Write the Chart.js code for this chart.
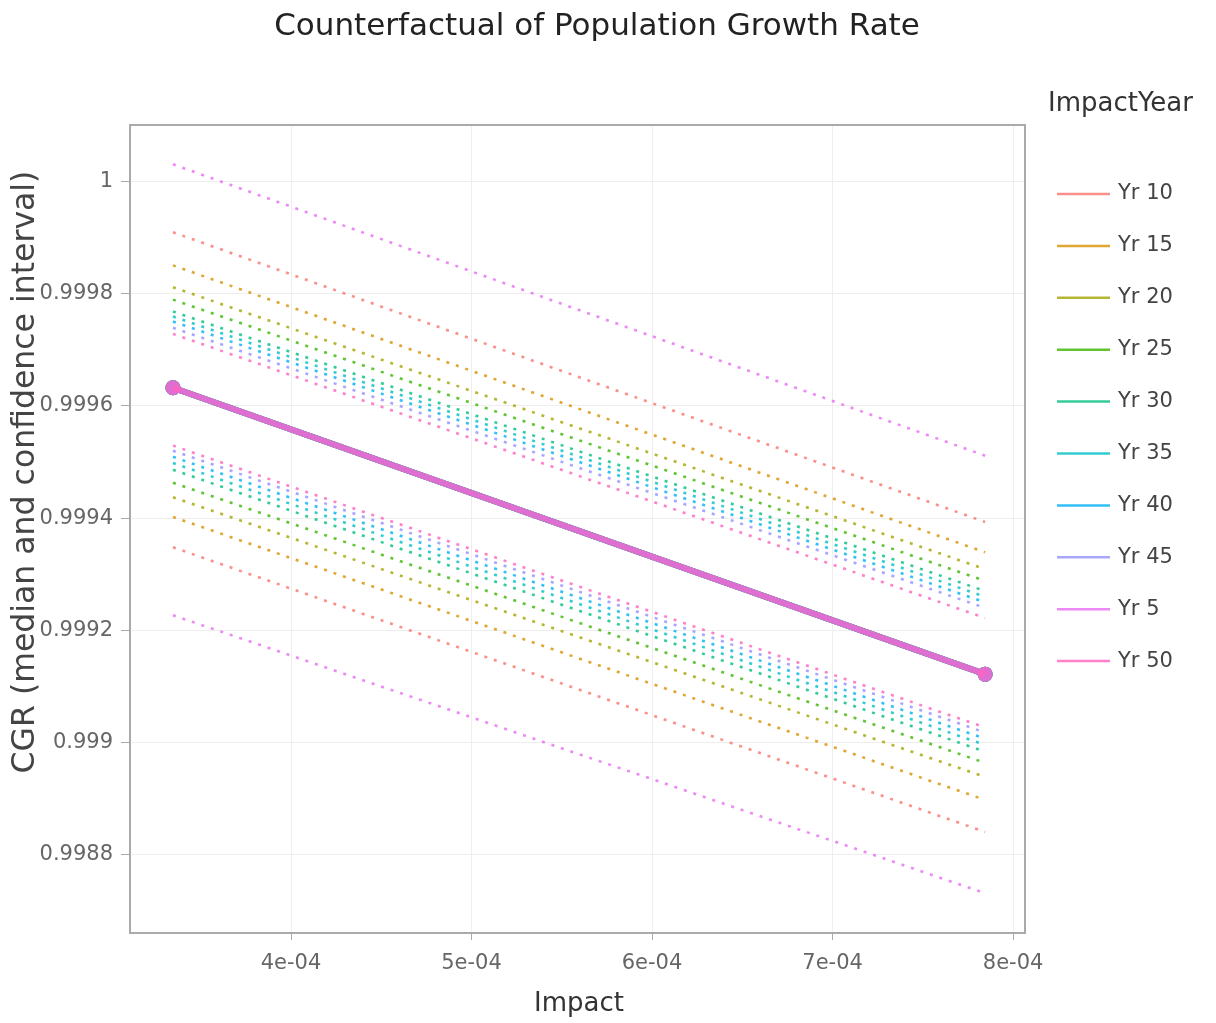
<!DOCTYPE html>
<html><head><meta charset="utf-8">
<script src="https://cdn.jsdelivr.net/npm/chart.js@4.4.1/dist/chart.umd.min.js"></script>
<style>html,body{margin:0;padding:0;background:#fff;overflow:hidden;} #wrap{position:relative;width:1216px;height:1023px;}</style>
</head><body><div id="wrap"><canvas id="c" width="1216" height="1023"></canvas></div>
<script>
// ---- data ----
const impactX = [3.346e-4, 7.845e-4];
const years = ['Yr 10','Yr 15','Yr 20','Yr 25','Yr 30','Yr 35','Yr 40','Yr 45','Yr 5','Yr 50'];
const colors = ['#F8766D','#D89000','#A3A500','#39B600','#00BF7D','#00BFC4','#00B0F6','#9590FF','#E76BF3','#FF62BC'];
const upperStart = [0.999909,0.999850,0.999811,0.999789,0.999768,0.999759,0.999750,0.999739,1.000030,0.999728];
const upperEnd   = [0.999393,0.999339,0.999309,0.999288,0.999270,0.999260,0.999250,0.999240,0.999511,0.999222];
const lowerStart = [0.999348,0.999402,0.999437,0.999463,0.999486,0.999498,0.999509,0.999520,0.999227,0.999529];
const lowerEnd   = [0.998841,0.998898,0.998939,0.998964,0.998984,0.998996,0.999007,0.999018,0.998732,0.999027];
const medianStart = [0.999632,0.999632,0.999632,0.999632,0.999632,0.999632,0.999632,0.999632,0.999632,0.999632];
const medianEnd   = [0.999122,0.999122,0.999122,0.999122,0.999122,0.999122,0.999122,0.999122,0.999122,0.999122];
const xTicks = [4e-4,5e-4,6e-4,7e-4,8e-4];
const xTickLabels = ['4e-04','5e-04','6e-04','7e-04','8e-04'];
const yTicks = [0.9988,0.999,0.9992,0.9994,0.9996,0.9998,1];
const yTickLabels = ['0.9988','0.999','0.9992','0.9994','0.9996','0.9998','1'];
const chartTitle = 'Counterfactual of Population Growth Rate';
const xTitle = 'Impact';
const yTitle = 'CGR (median and confidence interval)';
const legendTitle = 'ImpactYear';

function alpha(hex,a){const n=parseInt(hex.slice(1),16);return `rgba(${n>>16},${(n>>8)&255},${n&255},${a})`;}

const datasets = [];
years.forEach((y,i)=>{
  const mk=(arr0,arr1)=>impactX.map((x,k)=>({x, y:(k===0?arr0:arr1)[i]}));
  datasets.push({label:y+' upper', data:mk(upperStart,upperEnd), borderColor:alpha(colors[i],0.8), borderWidth:2.6, borderDash:[3,7], pointRadius:0, order:2});
  datasets.push({label:y+' lower', data:mk(lowerStart,lowerEnd), borderColor:alpha(colors[i],0.8), borderWidth:2.6, borderDash:[3,7], pointRadius:0, order:2});
});
years.forEach((y,i)=>{
  datasets.push({label:y, data:impactX.map((x,k)=>({x,y:(k===0?medianStart:medianEnd)[i]})),
    borderColor:alpha(colors[i],0.6), backgroundColor:alpha(colors[i],0.6), borderWidth:6,
    pointRadius:7.5, pointBorderWidth:0, order:1-i*0.01});
});

const FONT = 'DejaVu Sans';
function txt(ctx, s, x, y, size, color, align, rot){
  ctx.save();
  ctx.translate(x,y); if(rot) ctx.rotate(rot);
  ctx.font = `${size}px "${FONT}"`;
  ctx.fillStyle=color; ctx.textBaseline='middle'; ctx.textAlign=align;
  ctx.fillText(s, 0, 0);
  ctx.restore();
}
const decor = {
  id:'decor',
  afterDraw(chart){
    const ctx=chart.ctx, a=chart.chartArea;
    ctx.save();
    ctx.strokeStyle='#aaaaaa'; ctx.lineWidth=2; ctx.setLineDash([]);
    ctx.strokeRect(a.left, a.top, a.right-a.left, a.bottom-a.top);
    ctx.restore();
    txt(ctx, chartTitle, 597, 27, 31, '#222', 'center');
    txt(ctx, xTitle, 579, 1004, 26, '#333', 'center');
    txt(ctx, yTitle, 26, 472, 31.5, '#444', 'center', -Math.PI/2);
    txt(ctx, legendTitle, 1048, 104, 26, '#333', 'left');
    years.forEach((y,i)=>{
      const yy=194+i*51.9;
      ctx.save();
      ctx.strokeStyle=alpha(colors[i],0.8); ctx.lineWidth=2.5; ctx.setLineDash([]);
      ctx.beginPath(); ctx.moveTo(1057,yy); ctx.lineTo(1110,yy); ctx.stroke();
      ctx.restore();
      txt(ctx, y, 1118, yy, 21, '#444', 'left');
    });
  }
};

new Chart(document.getElementById('c'), {
  type:'line',
  data:{datasets},
  plugins:[decor],
  options:{
    responsive:false, animation:false, devicePixelRatio:1,
    layout:{padding:{left:0,top:125,right:191,bottom:0}},
    plugins:{legend:{display:false}, title:{display:false}, tooltip:{enabled:false}},
    scales:{
      x:{type:'linear', min:3.108e-4, max:8.066e-4,
        afterBuildTicks:s=>{s.ticks=xTicks.map(v=>({value:v}));},
        afterFit:s=>{s.height=90;},
        grid:{color:'#eeeeee', tickColor:'#aaaaaa', tickLength:7, drawTicks:true},
        border:{display:false},
        ticks:{color:'#666', font:{family:FONT,size:21}, padding:11, maxRotation:0,
          callback:(v)=>{const i=xTicks.findIndex(t=>Math.abs(t-v)<1e-9);return i>=0?xTickLabels[i]:'';}},
        title:{display:false}
      },
      y:{type:'linear', min:0.998661, max:1.0001,
        afterBuildTicks:s=>{s.ticks=yTicks.map(v=>({value:v}));},
        afterFit:s=>{s.width=130;},
        grid:{color:'#eeeeee', tickColor:'#aaaaaa', tickLength:9, drawTicks:true},
        border:{display:false},
        ticks:{color:'#666', font:{family:FONT,size:21}, padding:8,
          callback:(v)=>{const i=yTicks.findIndex(t=>Math.abs(t-v)<1e-9);return i>=0?yTickLabels[i]:'';}},
        title:{display:false}
      }
    }
  }
});
</script></body></html>
